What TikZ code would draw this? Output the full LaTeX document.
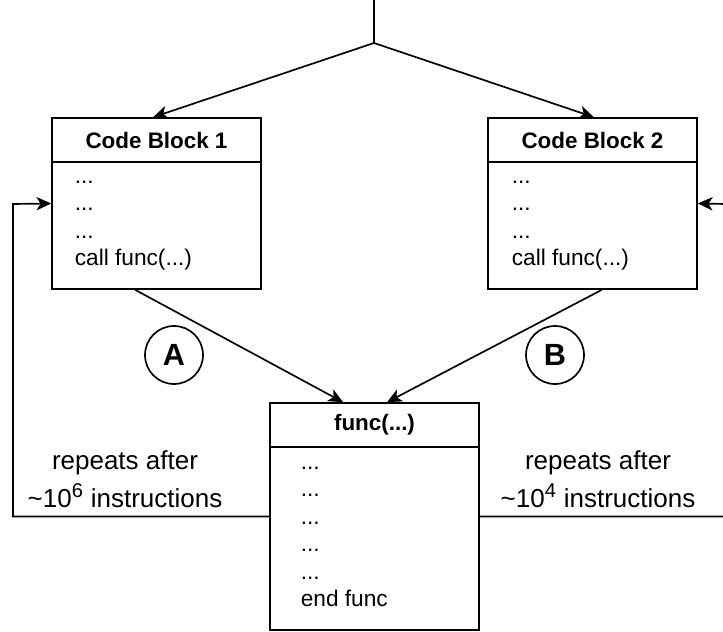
\documentclass[tikz,border=0pt]{standalone}
\usepackage{fontspec}
\setmainfont{Liberation Sans}
\usetikzlibrary{arrows.meta}
\newcommand{\etcdots}{...}

\begin{document}
\begin{tikzpicture}[x=0.75pt,y=-0.75pt,line width=1.25pt,
  arr/.style={-{Stealth[length=11pt,width=10pt,inset=3pt]}},
  codebox/.style={draw,rectangle,minimum width=156.75pt,inner sep=0pt},
  title/.style={font=\fontsize{16.8}{20}\selectfont\bfseries,inner sep=0pt},
  codeline/.style={font=\fontsize{17}{20}\selectfont,anchor=base west,inner sep=0pt},
  tag/.style={draw,circle,minimum size=43.5pt,inner sep=0pt,font=\fontsize{23}{26}\selectfont\bfseries},
  note/.style={align=center,inner sep=0pt,font=\fontsize{19.5}{28.5}\selectfont}]
\useasboundingbox (0,0) rectangle (723,631);
% boxes
\node[codebox,minimum height=128.25pt] (cb1) at (156.5,203.5) {};
\node[codebox,minimum height=128.25pt] (cb2) at (592.5,203.5) {};
\node[codebox,minimum height=170.25pt] (func) at (374.5,516.5) {};
\draw (52,162) -- (261,162);
\draw (488,162) -- (697,162);
\draw (270,447) -- (479,447);
\node[title] (cb1t) at (156.5,140) {Code Block 1};
\node[title] (cb2t) at (592.5,140) {Code Block 2};
\node[title] (funct) at (374.5,425) {func(\etcdots)};
\foreach \t [count=\i] in {\etcdots,\etcdots,\etcdots,call func(\etcdots)} {
  \node[codeline] (cb1l\i) at (74,155.5+27.5*\i) {\t};
  \node[codeline] (cb2l\i) at (511,155.5+27.5*\i) {\t};
}
\foreach \t [count=\i] in {\etcdots,\etcdots,\etcdots,\etcdots,\etcdots,end func}
  \node[codeline] (funcl\i) at (300,441.5+27.5*\i) {\t};
% entry
\coordinate (entry) at (374,0);
\coordinate (split) at (374,43);
\draw (entry) -- (split);
\draw[arr] (split) -- ([xshift=-2.5pt]cb1.north);
\draw[arr] (split) -- ([xshift=1pt]cb2.north);
% calls
\draw[arr] ([xshift=-16pt]cb1.south) -- ([xshift=-23.6pt]func.north);
\draw[arr] ([xshift=7pt]cb2.south) -- ([xshift=9.4pt]func.north);
\node[tag] (pa) at (174,355) {A};
\node[tag] (pb) at (555,355) {B};
% loops back
\draw[arr] (func.west) -| (13,204) -- (cb1.west);
\draw[arr] (func.east) -| (726,204) -- (cb2.east);
\node[note] (la) at (125,479) {repeats after\\\textasciitilde10\textsuperscript{\fontsize{15}{15}\selectfont 6} instructions};
\node[note] (lb) at (598,479) {repeats after\\\textasciitilde10\textsuperscript{\fontsize{15}{15}\selectfont 4} instructions};
\end{tikzpicture}
\end{document}
